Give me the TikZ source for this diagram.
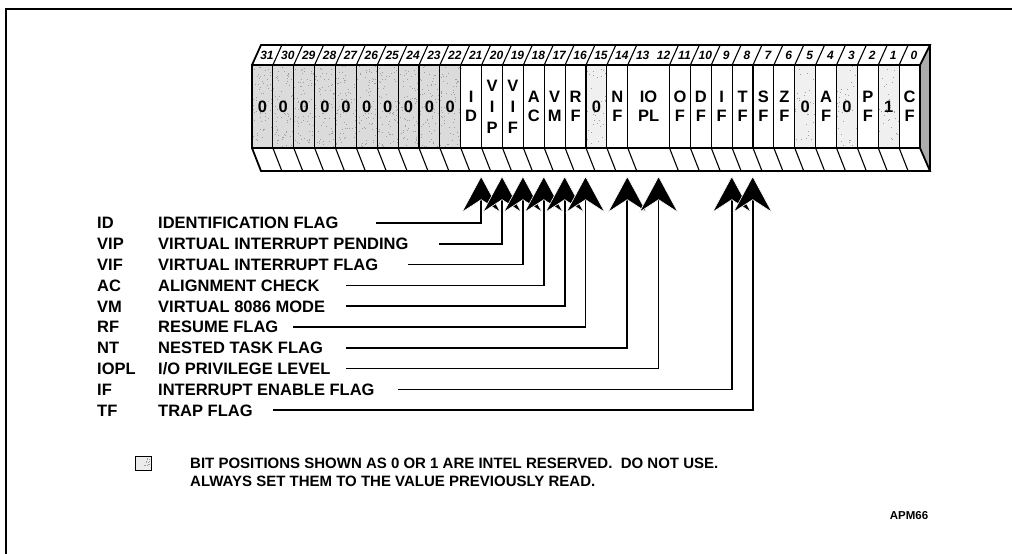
\documentclass[tikz,border=0pt]{standalone}
\usepackage{fontspec}
\setmainfont{Liberation Sans}
\usetikzlibrary{arrows.meta}
\begin{document}
\begin{tikzpicture}[x=1pt,y=-1pt,
  cellf/.style={font=\fontsize{16.5}{18}\selectfont\bfseries, inner sep=0pt},
  numf/.style={font=\fontsize{12}{12}\selectfont\bfseries\itshape, inner sep=0pt},
  legf/.style={font=\fontsize{16.5}{18}\selectfont\bfseries, inner sep=0pt},
  notef/.style={font=\fontsize{15}{18}\selectfont\bfseries, inner sep=0pt},
  resdark/.style={fill=gray!28},
  reslight/.style={fill=gray!12},
  dotdark/.style={fill=gray!75},
  thickline/.style={line width=1.8pt, line join=miter},
  divline/.style={line width=1.1pt},
  conn/.style={line width=1.7pt, -{Stealth[length=37pt,width=40pt,inset=13pt,line width=0.6pt,color=white,fill=black]}},
]
\useasboundingbox (0,0) rectangle (1012,554);
% outer frame (open at right and bottom)
\draw[line width=1.8pt] (6,554) -- (6,9) -- (1012,9);

\pgfmathsetseed{4217}
% reserved cells (stippled)
\foreach \b in {31,30,29,28,27,26,25,24,23,22} {
  \fill[resdark] ({252+(31-\b)*20.875},65) rectangle ++(20.875,83);
  \foreach \k in {1,...,70}
    \fill[dotdark] ({252+(31-\b+rnd)*20.875},{65+83*rnd}) rectangle ++(1,1);
}
\foreach \b in {15,5,3,1} {
  \fill[reslight] ({252+(31-\b)*20.875},65) rectangle ++(20.875,83);
  \foreach \k in {1,...,35}
    \fill[dotdark] ({252+(31-\b+rnd)*20.875},{65+83*rnd}) rectangle ++(1,1);
}
% right side face
\fill[gray!65] (920,65) -- (930,45) -- (930,171) -- (920,148) -- cycle;

% dividers
\foreach \c in {1,...,31} {
  \ifnum\c=19\relax\else
    \draw[divline] ({252+\c*20.875},65) -- ++(0,83);
    \draw[divline] ({252+\c*20.875},65) -- ++(9,-20);
    \draw[divline] ({252+\c*20.875},148) -- ++(9,23);
  \fi
}
% outlines
\draw[thickline] (252,65) rectangle (920,148);
\draw[thickline] (252,65) -- (261,45) -- (930,45) -- (920,65);
\draw[thickline] (252,148) -- (261,171) -- (930,171) -- (920,148);
\draw[thickline] (930,45) -- (930,171);

% bit numbers
\foreach \b in {0,...,31}
  \node[numf, anchor=base] (n\b) at ({252+(31.5-\b)*20.875+4.5},59.3) {\b};

% reserved values
\foreach \b in {31,30,29,28,27,26,25,24,23,22,15,5,3}
  \node[cellf, anchor=base] (z\b) at ({252+(31.5-\b)*20.875},112.9) {0};
\node[cellf, anchor=base] (z1) at ({252+30.5*20.875},112.9) {1};

% two-letter flags
\foreach \b/\t/\u in {21/I/D,18/A/C,17/V/M,16/R/F,14/N/F,11/O/F,10/D/F,9/I/F,8/T/F,7/S/F,6/Z/F,4/A/F,2/P/F,0/C/F} {
  \node[cellf, anchor=base] (t\b) at ({252+(31.5-\b)*20.875},102.9) {\t};
  \node[cellf, anchor=base] (u\b) at ({252+(31.5-\b)*20.875},121.9) {\u};
}
\node[cellf, anchor=base] (tIO) at (648.6,102.9) {IO};
\node[cellf, anchor=base] (uPL) at (648.6,121.9) {PL};
% three-letter flags
\foreach \b/\u in {20/P,19/F} {
  \node[cellf, anchor=base] (v\b) at ({252+(31.5-\b)*20.875},91.9) {V};
  \node[cellf, anchor=base] (i\b) at ({252+(31.5-\b)*20.875},112.9) {I};
  \node[cellf, anchor=base] (w\b) at ({252+(31.5-\b)*20.875},133.9) {\u};
}

% legend with connectors
\foreach \i/\ab/\de/\sx/\vx in {
  0/ID/{IDENTIFICATION FLAG}/376/481.19,
  1/VIP/{VIRTUAL INTERRUPT PENDING}/439/502.06,
  2/VIF/{VIRTUAL INTERRUPT FLAG}/408/522.94,
  3/AC/{ALIGNMENT CHECK}/346/543.81,
  4/VM/{VIRTUAL 8086 MODE}/346/564.69,
  5/RF/{RESUME FLAG}/293/585.56,
  6/NT/{NESTED TASK FLAG}/346/627.31,
  7/IOPL/{I/O PRIVILEGE LEVEL}/346/658.6,
  8/IF/{INTERRUPT ENABLE FLAG}/398/731.8,
  9/TF/{TRAP FLAG}/273/752.7} {
  \pgfmathsetmacro\ry{223+20.8*\i}
  \node[legf, anchor=base west] (ab\i) at (97,\ry+5.9) {\ab};
  \node[legf, anchor=base west] (de\i) at (158,\ry+5.9) {\de};
  \coordinate (s\i) at (\sx,\ry);
  \coordinate (tip\i) at (\vx,176);
  \draw[conn] (s\i) -- (s\i -| tip\i) -- (tip\i);
}

% reserved note
\node[draw, line width=0.6pt, fill=gray!15, minimum width=16pt, minimum height=14pt, inner sep=0pt] (sq) at (143,463) {};
\foreach \k in {1,...,12}
  \fill[dotdark] ({136+14*rnd},{457+12*rnd}) rectangle ++(0.8,0.8);
\node[notef, anchor=base west] (note1) at (190,468) {BIT POSITIONS SHOWN AS 0 OR 1 ARE INTEL RESERVED.\ \ DO NOT USE.};
\node[notef, anchor=base west] (note2) at (190,486) {ALWAYS SET THEM TO THE VALUE PREVIOUSLY READ.};
\node[font=\fontsize{11.5}{12}\selectfont\bfseries, inner sep=0pt] (apm) at (909,516) {APM66};
\end{tikzpicture}
\end{document}
